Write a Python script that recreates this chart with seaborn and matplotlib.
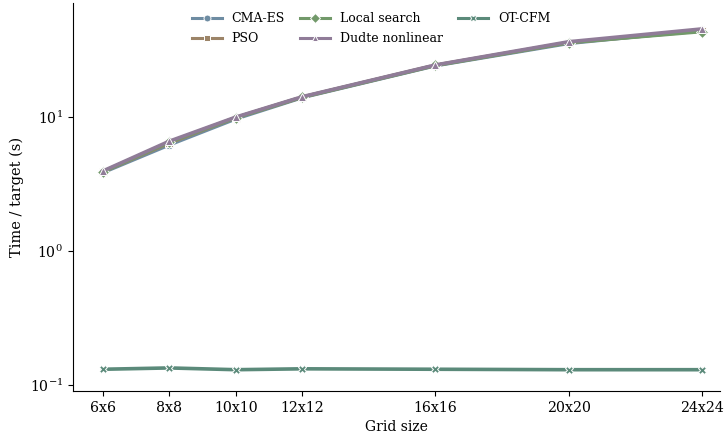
import matplotlib
matplotlib.use("Agg")
import matplotlib.pyplot as plt
import matplotlib.ticker as mticker
import seaborn as sns
import pandas as pd

grid_sizes = [6, 8, 10, 12, 16, 20, 24]
tick_labels = ["6x6", "8x8", "10x10", "12x12", "16x16", "20x20", "24x24"]

cma_es = [3.85, 6.2, 9.7, 14.0, 24.2, 35.5, 44.5]
pso = [3.9, 6.4, 9.9, 14.1, 24.4, 36.0, 44.0]
local_search = [3.9, 6.5, 9.9, 14.1, 24.3, 36.0, 43.5]
dudte = [3.95, 6.6, 10.0, 14.2, 24.5, 36.5, 45.5]
ot_cfm = [0.131, 0.134, 0.130, 0.132, 0.131, 0.130, 0.130]

methods = ["CMA-ES", "PSO", "Local search", "Dudte nonlinear", "OT-CFM"]
series = [cma_es, pso, local_search, dudte, ot_cfm]
colors = ["#6e8ca2", "#9c8468", "#72996a", "#907c98", "#5b8a7a"]
markers = ["o", "s", "D", "^", "X"]

rows = []
for m, vals in zip(methods, series):
    for g, v in zip(grid_sizes, vals):
        rows.append({"Grid": g, "Time": v, "Method": m})
df = pd.DataFrame(rows)

plt.rcParams["font.family"] = ["DejaVu Serif"]
plt.rcParams["mathtext.fontset"] = "dejavuserif"

fig, ax = plt.subplots(figsize=(7.27, 4.36), dpi=100)
sns.lineplot(data=df, x="Grid", y="Time", hue="Method", style="Method",
             hue_order=methods, style_order=methods,
             palette=dict(zip(methods, colors)),
             markers=dict(zip(methods, markers)), dashes=False,
             linewidth=2.6, markersize=6, markeredgecolor="white",
             markeredgewidth=0.7, ax=ax)
ax.set_yscale("log")
ax.set_ylim(0.09, 71)
ax.yaxis.set_minor_locator(mticker.NullLocator())
ax.set_xlim(5.1, 24.54)
ax.set_xticks(grid_sizes)
ax.set_xticklabels(tick_labels)
ax.set_xlabel("Grid size", fontsize=10)
ax.set_ylabel("Time / target (s)", fontsize=10.5)
ax.tick_params(labelsize=10.2)
sns.despine(ax=ax)
leg = ax.legend(loc="upper center", ncol=3, frameon=False, fontsize=9,
                bbox_to_anchor=(0.461, 1.005), handlelength=2.4,
                handletextpad=0.8, columnspacing=1.2, labelspacing=0.55)
for h in leg.get_lines():
    h.set_linewidth(2.2)
    h.set_markersize(5)
plt.subplots_adjust(left=0.1, right=0.99, bottom=0.103, top=0.993)
fig.savefig("out.png", dpi=100)
